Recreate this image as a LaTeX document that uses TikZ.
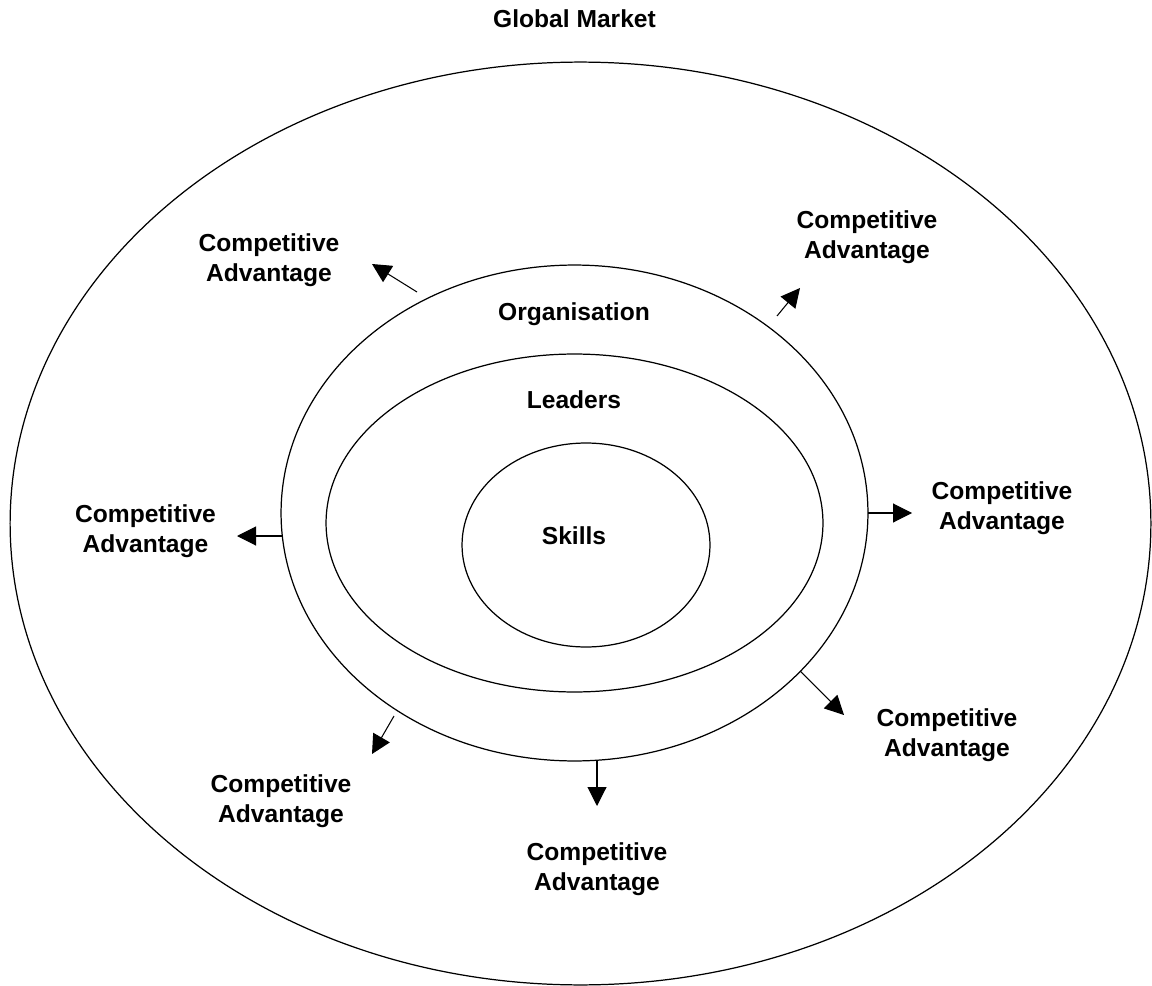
\documentclass[tikz,border=0pt]{standalone}
\usepackage{fontspec}
\setmainfont{Liberation Sans}
\usetikzlibrary{shapes.geometric,arrows.meta}

\begin{document}
\begin{tikzpicture}[x=0.02cm, y=-0.02cm, line width=0.7pt,
        ring/.style={draw, ellipse, inner sep=0pt},
        lbl/.style={font=\bfseries\fontsize{14}{17}\selectfont, align=center, inner sep=0pt},
        push/.style={-{Triangle[length=3.8mm, width=3.8mm]}, line width=0.6pt}]
    \useasboundingbox (0,0) rectangle (1152,986);
    % nested rings, outermost first
    \node[ring, minimum width=22.82cm, minimum height=18.46cm] (market) at (580.5,523.5) {};
    \node[ring, minimum width=11.74cm, minimum height=9.92cm] (org) at (574.5,513) {};
    \node[ring, minimum width=9.94cm, minimum height=6.76cm] (leaders) at (574.5,523) {};
    \node[ring, minimum width=4.96cm, minimum height=4.08cm] (skills) at (586,545) {};
    \node[lbl] (marketlbl) at (574.5,18.5) {Global Market};
    \node[lbl] (orglbl) at (574,314) {Organisation};
    \node[lbl] (leaderslbl) at (574,399.5) {Leaders};
    \node[lbl] (skillslbl) at (574,535.5) {Skills};
    % advantages pushed out from the organisation ring
    \foreach \n/\sx/\sy/\tx/\ty/\lx/\ly in {1/417/292/372/264/269/260, 2/777/316/800/288/867/237.5,
            3/282/536/237/536/145.5/531, 4/868/513/912/513/1002/508, 5/800/671/844/715/947/735,
            6/394/716/372/754/281/801.5, 7/597/761/597/806/597/869} {
        \coordinate (s\n) at (\sx,\sy);
        \coordinate (t\n) at (\tx,\ty);
        \node[lbl] (adv\n) at (\lx,\ly) {Competitive\\Advantage};
        \draw[push] (s\n) -- (t\n);
    }
\end{tikzpicture}
\end{document}
